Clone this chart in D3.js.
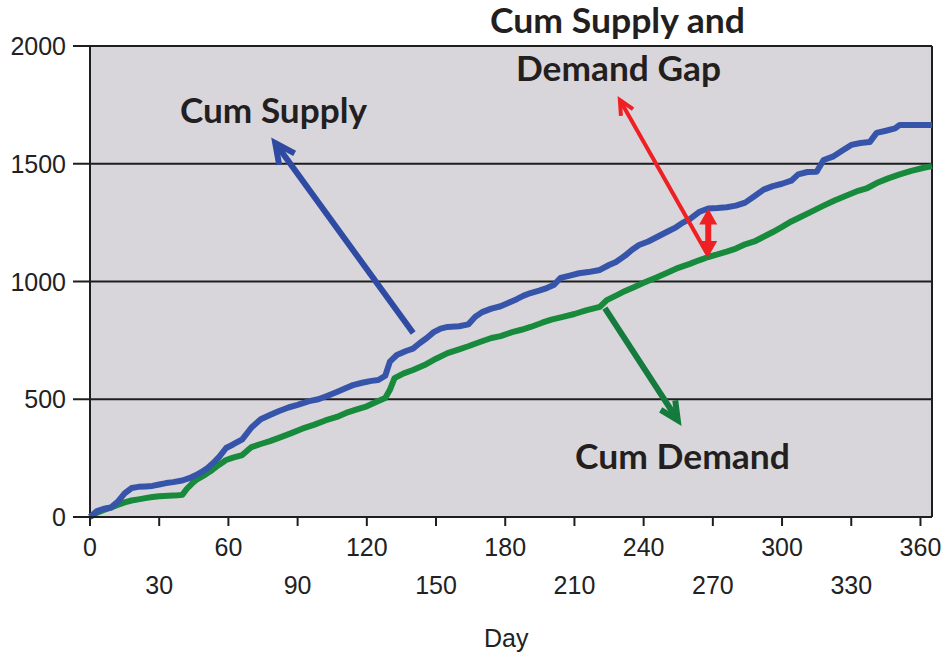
<!DOCTYPE html>
<html><head><meta charset="utf-8">
<script src="https://cdn.jsdelivr.net/npm/d3@7/dist/d3.min.js"></script>
<style>html,body{margin:0;padding:0;background:#fff;}svg{display:block;}</style>
</head><body>
<svg id="chart" width="943" height="656"></svg>
<script>
// ---- data ----
const supplyDays = [0,3,6,9,12,15,18,21,24,27,30,33,36,40,43,46,49,51,54,56,59,62,66,70,74,78,82,86,90,95,99,103,107,111,114,118,122,125,128,130,133,137,140,143,146,149,152,155,160,164,167,170,174,178,181,185,188,191,195,198,201,204,208,212,216,221,225,228,232,235,238,242,246,250,254,257,260,264,268,272,276,280,284,288,292,296,300,304,307,311,315,318,322,326,330,334,338,341,345,349,351,358,365];
const cumSupply = [0,25,35,40,64,100,123,128,130,132,138,144,148,155,165,178,195,208,235,255,293,308,330,380,415,433,450,465,476,492,500,515,531,548,560,570,578,582,600,660,688,705,715,739,760,785,800,807,810,818,850,870,885,895,908,925,940,951,962,972,985,1015,1025,1035,1040,1049,1070,1083,1110,1135,1155,1170,1190,1210,1230,1250,1265,1295,1310,1312,1315,1322,1335,1362,1390,1405,1415,1428,1455,1465,1466,1516,1530,1555,1580,1588,1592,1631,1640,1650,1665,1665,1665];
const demandDays = [0,3,6,9,12,15,18,21,24,27,30,34,38,40,42,44,46,50,53,56,59,62,66,70,74,78,83,87,92,97,102,107,111,115,120,124,128,130,132,136,140,145,150,155,160,164,169,174,178,183,187,191,196,200,205,210,215,221,224,228,232,236,240,245,250,255,260,264,268,272,276,280,284,288,292,296,300,304,308,313,318,323,328,333,337,341,346,351,356,361,365];
const cumDemand = [0,18,30,40,51,62,70,75,80,85,88,90,92,94,120,140,157,180,200,222,242,252,263,297,310,322,340,355,375,391,410,425,442,455,470,488,505,540,590,610,624,645,672,696,712,725,743,760,768,785,795,807,825,838,850,862,877,892,921,940,960,977,995,1015,1036,1058,1075,1090,1104,1115,1127,1140,1158,1170,1190,1210,1232,1255,1274,1298,1322,1345,1365,1385,1397,1418,1438,1455,1470,1482,1490];
const yTicks = [0,500,1000,1500,2000];
const xTicks = [0,30,60,90,120,150,180,210,240,270,300,330,360];
const xLabel = "Day";
const annotations = ["Cum Supply","Cum Supply and","Demand Gap","Cum Demand"];

// ---- layout ----
const svg = d3.select("#chart");
const L = 90, R = 932, T = 46, B = 517;
const x = d3.scaleLinear().domain([0,365]).range([L,R]);
const y = d3.scaleLinear().domain([0,2000]).range([B,T]);
const font = "'Liberation Sans', Arial, sans-serif";
const bold = "Lato, 'Open Sans', sans-serif";

// plot background
svg.append("rect").attr("x",L).attr("y",T).attr("width",R-L).attr("height",B-T).attr("fill","#d9d6db");

// gridlines + y ticks
yTicks.forEach(v=>{
  svg.append("line").attr("x1",L-17).attr("x2",R).attr("y1",y(v)).attr("y2",y(v))
    .attr("stroke","#1e1e1e").attr("stroke-width",2);
  svg.append("text").attr("x",L-24).attr("y",y(v)+9).attr("text-anchor","end")
    .attr("font-family",font).attr("font-size",25).attr("fill","#222").text(v);
});
// frame
svg.append("line").attr("x1",L).attr("x2",L).attr("y1",T).attr("y2",B).attr("stroke","#1e1e1e").attr("stroke-width",2);
svg.append("line").attr("x1",R).attr("x2",R).attr("y1",T).attr("y2",B).attr("stroke","#1e1e1e").attr("stroke-width",2);
// x ticks
xTicks.forEach((d,i)=>{
  svg.append("line").attr("x1",x(d)).attr("x2",x(d)).attr("y1",B).attr("y2",B+9).attr("stroke","#1e1e1e").attr("stroke-width",2);
  svg.append("text").attr("x",x(d)).attr("y", i%2===0 ? B+39 : B+77).attr("text-anchor","middle")
    .attr("font-family",font).attr("font-size",25).attr("fill","#222").text(d);
});
svg.append("text").attr("x",x(180)+1).attr("y",647).attr("text-anchor","middle")
  .attr("font-family",font).attr("font-size",25).attr("fill","#222").text(xLabel);

// lines
const line = d3.line().x(d=>x(d[0])).y(d=>y(d[1]));
svg.append("path").datum(demandDays.map((d,i)=>[d,cumDemand[i]])).attr("d",line)
  .attr("fill","none").attr("stroke","#178a3c").attr("stroke-width",6).attr("stroke-linejoin","round");
svg.append("path").datum(supplyDays.map((d,i)=>[d,cumSupply[i]])).attr("d",line)
  .attr("fill","none").attr("stroke","#3654aa").attr("stroke-width",6).attr("stroke-linejoin","round");
// bottom axis line on top
svg.append("line").attr("x1",L-17).attr("x2",R).attr("y1",B).attr("y2",B).attr("stroke","#1e1e1e").attr("stroke-width",2);

// arrow helpers
function chevron(x1,y1,x2,y2,color,w,len){
  svg.append("line").attr("x1",x1).attr("y1",y1).attr("x2",x2).attr("y2",y2)
    .attr("stroke",color).attr("stroke-width",w);
  const a = Math.atan2(y2-y1,x2-x1), sp = 0.45;
  const p1=[x2-len*Math.cos(a-sp), y2-len*Math.sin(a-sp)];
  const p2=[x2-len*Math.cos(a+sp), y2-len*Math.sin(a+sp)];
  svg.append("path").attr("d",`M${p1}L${x2},${y2}L${p2}`).attr("fill","none")
    .attr("stroke",color).attr("stroke-width",w).attr("stroke-linejoin","miter");
}
function head(xp,yp,dir,color){
  svg.append("path").attr("d",`M${xp},${yp}L${xp-9},${yp-dir*16}L${xp+9},${yp-dir*16}Z`).attr("fill",color);
}
chevron(x(140.1),y(781),x(80.3),y(1588),"#2e4aa3",6,22);
chevron(x(223.2),y(887),x(254.8),y(411),"#157a3e",6,20);
chevron(x(267.9),y(1111),x(229.7),y(1771),"#ee2024",4,16);
// double vertical arrow (gap)
const gapDay = 268;
const yTop = y(cumSupply[supplyDays.indexOf(gapDay)]), yBot = y(cumDemand[demandDays.indexOf(gapDay)]);
svg.append("line").attr("x1",x(gapDay)).attr("x2",x(gapDay)).attr("y1",yTop+10).attr("y2",yBot-10)
  .attr("stroke","#ee2024").attr("stroke-width",6);
head(x(gapDay),yTop,-1,"#ee2024");
head(x(gapDay),yBot,1,"#ee2024");

// annotation texts
const ann = [[273.5,123,187],[617.5,33,255],[618.5,81,205],[682.5,469,215]];
annotations.forEach((t,i)=>{
  svg.append("text").attr("x",ann[i][0]).attr("y",ann[i][1]).attr("text-anchor","middle")
    .attr("font-family",bold).attr("font-weight","bold").attr("font-size",34).attr("fill","#231f20")
    .attr("textLength",ann[i][2]).attr("lengthAdjust","spacingAndGlyphs").text(t);
});
</script>
</body></html>
